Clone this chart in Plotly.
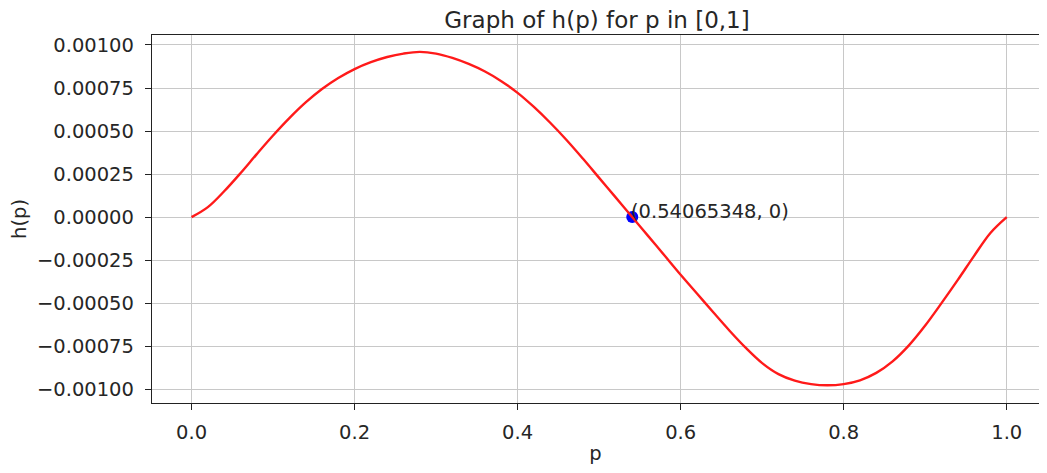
import plotly.graph_objects as go

# values
p_vals = [0.00, 0.02, 0.04, 0.06, 0.08, 0.10, 0.12, 0.14, 0.16, 0.18,
          0.20, 0.22, 0.24, 0.26, 0.28, 0.30, 0.32, 0.34, 0.36, 0.38,
          0.40, 0.42, 0.44, 0.46, 0.48, 0.50, 0.52, 0.54, 0.56, 0.58,
          0.60, 0.62, 0.64, 0.66, 0.68, 0.70, 0.72, 0.74, 0.76, 0.78,
          0.80, 0.82, 0.84, 0.86, 0.88, 0.90, 0.92, 0.94, 0.96, 0.98, 1.00]
h_vals = [0.0, 0.000058, 0.000150, 0.000255, 0.000366, 0.000474, 0.000575,
          0.000666, 0.000744, 0.000808, 0.000860, 0.000900, 0.000930, 0.000950,
          0.000960, 0.000950, 0.000925, 0.000890, 0.000846, 0.000790, 0.000722,
          0.000640, 0.000548, 0.000448, 0.000340, 0.000228, 0.000116, 0.000004,
          -0.000109, -0.000222, -0.000335, -0.000444, -0.000553, -0.000660,
          -0.000760, -0.000848, -0.000912, -0.000950, -0.000970, -0.000977,
          -0.000970, -0.000948, -0.000905, -0.000838, -0.000745, -0.000630,
          -0.000500, -0.000365, -0.000225, -0.000092, 0.0]
root_p = [0.54065348]
root_h = [0]
root_label = "(0.54065348, 0)"

x_ticks = [0.0, 0.2, 0.4, 0.6, 0.8, 1.0]
y_ticks = [0.001, 0.00075, 0.0005, 0.00025, 0, -0.00025, -0.0005, -0.00075, -0.001]

font = dict(family="DejaVu Sans", size=19.5, color="#262626")

fig = go.Figure()
fig.add_trace(go.Scatter(x=root_p, y=root_h, mode="markers",
                         marker=dict(color="#0000ff", size=12), showlegend=False))
fig.add_trace(go.Scatter(x=p_vals, y=h_vals, mode="lines", line_shape="spline",
                         line=dict(color="#ff1a1a", width=2.4), showlegend=False))
fig.add_annotation(x=root_p[0], y=root_h[0], text=root_label, showarrow=False,
                   xanchor="left", yanchor="bottom", xshift=-3, yshift=-8, font=font)

axis_common = dict(showgrid=True, gridcolor="#c8c8c8", gridwidth=1.2,
                   showline=True, linecolor="#222", linewidth=1.3,
                   ticks="outside", ticklen=6, tickcolor="#222", zeroline=False,
                   tickfont=font)

fig.update_xaxes(range=[-0.0485, 1.0396], tickvals=x_ticks, tickformat=".1f",
                 mirror=True, ticklabelstandoff=5,
                 title=dict(text="p", font=font, standoff=8), **axis_common)
fig.update_yaxes(range=[-0.00108, 0.001058], tickvals=y_ticks, tickformat=".5f",
                 mirror=False, ticklabelstandoff=7,
                 title=dict(text="h(p)", font=font, standoff=12), **axis_common)

fig.update_layout(width=1031, height=457,
                  margin=dict(l=144, r=0, t=27, b=62),
                  plot_bgcolor="white", paper_bgcolor="white",
                  title=dict(text="Graph of h(p) for p in [0,1]", x=0.5713, xanchor="center",
                             y=0.973, yanchor="middle",
                             font=dict(family="DejaVu Sans", size=23, color="#262626")))

fig.write_html("out.html")
